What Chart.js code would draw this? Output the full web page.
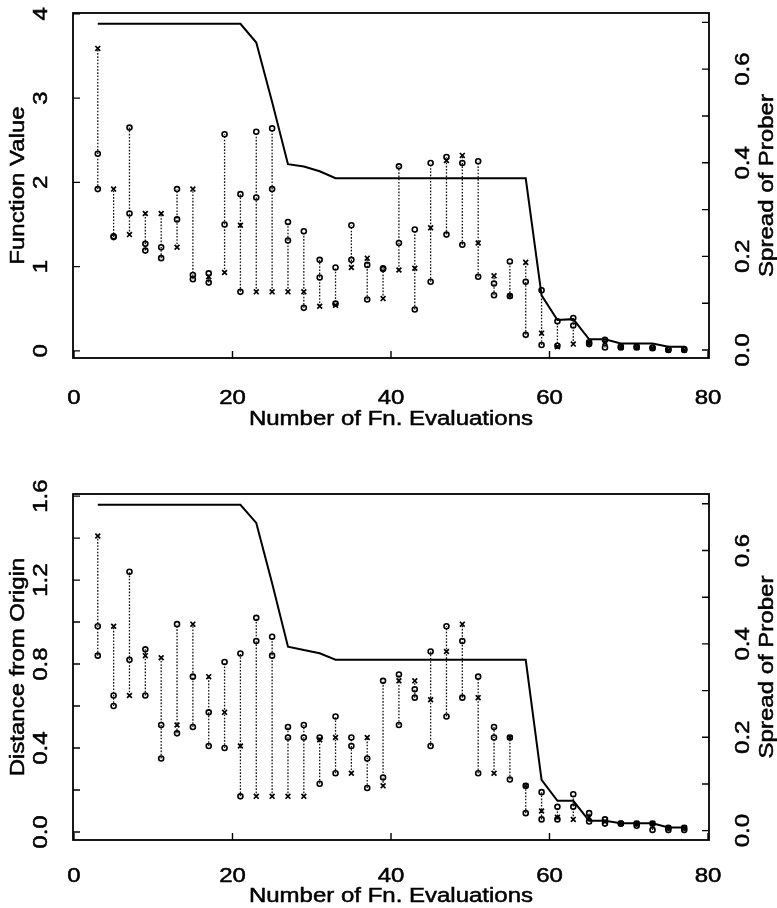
<!DOCTYPE html>
<html>
<head>
<meta charset="utf-8">
<script src="https://cdn.jsdelivr.net/npm/chart.js@4.4.1/dist/chart.umd.min.js"></script>
<style>
  html, body { margin: 0; padding: 0; background: #ffffff; }
  #wrap { position: relative; width: 777px; height: 908px; }
  canvas { position: absolute; left: 0; }
</style>
</head>
<body>
<div id="wrap">
  <canvas id="topPanel" width="777" height="454" style="top:0;width:777px;height:454px"></canvas>
  <canvas id="bottomPanel" width="777" height="454" style="top:454px;width:777px;height:454px"></canvas>
</div>
<script>
// x positions: number of function evaluations
const evals = [3, 5, 7, 9, 11, 13, 15, 17, 19, 21, 23, 25, 27, 29, 31, 33, 35, 37, 39,
  41, 43, 45, 47, 49, 51, 53, 55, 57, 59, 61, 63, 65, 67, 69, 71, 73, 75, 77];

// top panel: function value of the probe points
const fvCircleA = [2.34, 1.36, 2.65, 1.27, 1.23, 1.92, 0.90, 0.92, 2.57, 1.86, 2.60, 2.64, 1.53,
  1.42, 1.08, 0.99, 1.49, 1.02, 0.98, 2.19, 1.44, 2.23, 2.30, 2.23, 2.25, 0.80, 1.06, 0.82,
  0.72, 0.35, 0.39, 0.10, 0.13, 0.05, 0.05, 0.04, 0.02, 0.02];
const fvCircleB = [1.92, 1.35, 1.63, 1.19, 1.10, 1.56, 0.85, 0.81, 1.50, 0.70, 1.82, 1.92, 1.31,
  0.51, 0.87, 0.56, 1.08, 0.61, 0.97, 1.28, 0.49, 0.82, 1.38, 1.26, 0.88, 0.66, 0.65, 0.19,
  0.07, 0.06, 0.30, 0.08, 0.04, 0.04, 0.04, 0.03, 0.01, 0.01];
const fvCross = [3.59, 1.92, 1.38, 1.63, 1.63, 1.23, 1.92, 0.88, 0.93, 1.49, 0.70, 0.70, 0.70,
  0.70, 0.53, 0.54, 0.99, 1.10, 0.62, 0.96, 0.98, 1.46, 2.26, 2.32, 1.28, 0.89, 0.65, 1.05,
  0.21, 0.05, 0.08, 0.09, 0.10, 0.04, 0.04, 0.03, 0.01, 0.01];
const fvSpread = [0.697, 0.697, 0.697, 0.697, 0.697, 0.697, 0.697, 0.697, 0.697, 0.697, 0.657,
  0.53, 0.397, 0.392, 0.382, 0.367, 0.367, 0.367, 0.367, 0.367, 0.367, 0.367, 0.367, 0.367,
  0.367, 0.367, 0.367, 0.367, 0.117, 0.064, 0.066, 0.023, 0.023, 0.014, 0.014, 0.014, 0.007, 0.007];

// bottom panel: distance from origin of the probe points
const distCircleA = [0.98, 0.65, 1.24, 0.87, 0.51, 0.99, 0.74, 0.57, 0.81, 0.85, 1.02, 0.93, 0.50,
  0.51, 0.45, 0.55, 0.45, 0.35, 0.72, 0.75, 0.68, 0.86, 0.98, 0.91, 0.74, 0.50, 0.45, 0.22,
  0.19, 0.12, 0.18, 0.09, 0.06, 0.04, 0.04, 0.04, 0.02, 0.02];
const distCircleB = [0.84, 0.60, 0.82, 0.65, 0.35, 0.47, 0.50, 0.41, 0.40, 0.17, 0.91, 0.84, 0.45,
  0.45, 0.23, 0.28, 0.41, 0.21, 0.26, 0.51, 0.64, 0.41, 0.55, 0.64, 0.28, 0.45, 0.25, 0.09,
  0.06, 0.06, 0.12, 0.05, 0.04, 0.04, 0.03, 0.01, 0.01, 0.01];
const distCross = [1.41, 0.98, 0.65, 0.84, 0.83, 0.51, 0.99, 0.74, 0.57, 0.41, 0.17, 0.17, 0.17,
  0.17, 0.44, 0.45, 0.28, 0.45, 0.22, 0.72, 0.72, 0.63, 0.86, 0.99, 0.64, 0.28, 0.45, 0.22,
  0.10, 0.07, 0.06, 0.07, 0.05, 0.04, 0.04, 0.04, 0.02, 0.02];
const distSpread = [0.698, 0.698, 0.698, 0.698, 0.698, 0.698, 0.698, 0.698, 0.698, 0.698, 0.659,
  0.53, 0.394, 0.387, 0.38, 0.366, 0.366, 0.366, 0.366, 0.366, 0.366, 0.366, 0.366, 0.366,
  0.366, 0.366, 0.366, 0.366, 0.109, 0.064, 0.064, 0.021, 0.021, 0.016, 0.016, 0.016, 0.007, 0.007];

// axis ticks and labels
const xTicks = [0, 20, 40, 60, 80];
const fvTicks = [0, 1, 2, 3, 4];
const fvTickLabels = ["0", "1", "2", "3", "4"];
const distTicks = [0, 0.2, 0.4, 0.6, 0.8, 1.0, 1.2, 1.4, 1.6];
const distTickLabels = ["0.0", "", "0.4", "", "0.8", "", "1.2", "", "1.6"];
const spreadTicks = [0, 0.1, 0.2, 0.3, 0.4, 0.5, 0.6, 0.7];
const spreadTickLabels = ["0.0", "", "0.2", "", "0.4", "", "0.6", ""];

const xTitle = "Number of Fn. Evaluations";
const spreadTitle = "Spread of Prober";

const FONT = '20px "Liberation Sans", Arial, Helvetica, sans-serif';
const STRETCH = 1.2;

function drawLabel(ctx, text, x, y, vertical) {
  ctx.save();
  ctx.translate(x, y);
  if (vertical) {
    ctx.rotate(-Math.PI / 2);
  }
  ctx.scale(STRETCH, 1);
  ctx.fillText(text, 0, 0);
  ctx.strokeText(text, 0, 0);
  ctx.restore();
}

// box, inward ticks and rotated labels in the old S-plus look
const framePlugin = {
  id: "frame",
  afterDraw(chart, _args, opts) {
    const { ctx, chartArea: area, scales } = chart;
    const midY = (area.top + area.bottom) / 2;
    ctx.save();
    ctx.strokeStyle = "#000";
    ctx.fillStyle = "#000";
    ctx.lineWidth = 1.8;
    ctx.strokeRect(area.left, area.top, area.right - area.left, area.bottom - area.top);

    ctx.lineWidth = 1.4;
    ctx.beginPath();
    xTicks.forEach((v) => {
      const px = scales.x.getPixelForValue(v);
      ctx.moveTo(px, area.bottom);
      ctx.lineTo(px, area.bottom - 7);
    });
    opts.leftTicks.forEach((v) => {
      const py = scales.y.getPixelForValue(v);
      ctx.moveTo(area.left, py);
      ctx.lineTo(area.left + 7, py);
    });
    spreadTicks.forEach((v) => {
      const py = scales.y2.getPixelForValue(v);
      ctx.moveTo(area.right, py);
      ctx.lineTo(area.right - 7, py);
    });
    ctx.stroke();

    ctx.font = FONT;
    ctx.lineWidth = 0.5;
    ctx.textAlign = "center";
    ctx.textBaseline = "alphabetic";
    xTicks.forEach((v) => {
      drawLabel(ctx, String(v), scales.x.getPixelForValue(v), area.bottom + opts.tickGap, false);
    });
    drawLabel(ctx, xTitle, (area.left + area.right) / 2, area.bottom + opts.titleGap, false);
    opts.leftTicks.forEach((v, i) => {
      if (opts.leftLabels[i]) {
        drawLabel(ctx, opts.leftLabels[i], 47, scales.y.getPixelForValue(v), true);
      }
    });
    drawLabel(ctx, opts.leftTitle, 24, midY, true);
    spreadTicks.forEach((v, i) => {
      if (spreadTickLabels[i]) {
        drawLabel(ctx, spreadTickLabels[i], 749, scales.y2.getPixelForValue(v), true);
      }
    });
    drawLabel(ctx, spreadTitle, 773, midY, true);
    ctx.restore();
  },
};

Chart.register(framePlugin);

function toPoints(values) {
  return values.map((v, i) => ({ x: evals[i], y: v }));
}

function buildPanel(canvasId, cfg) {
  // one dotted segment per evaluation, spanning its three probe values
  const segments = [];
  evals.forEach((e, i) => {
    const vals = [cfg.circleA[i], cfg.circleB[i], cfg.cross[i]];
    segments.push({ x: e, y: Math.min(...vals) });
    segments.push({ x: e, y: Math.max(...vals) });
    segments.push({ x: e + 1, y: null });
  });

  const circleStyle = {
    showLine: false,
    pointStyle: "circle",
    pointRadius: 2.5,
    pointBorderWidth: 1.6,
    pointBorderColor: "#000",
    pointBackgroundColor: "rgba(0,0,0,0)",
    yAxisID: "y",
    order: 1,
  };

  const hidden = (size) => ({
    ticks: { display: false },
    grid: { display: false },
    border: { display: false },
    afterFit: (scale) => {
      if (scale.isHorizontal()) {
        scale.height = size;
      } else {
        scale.width = size;
      }
    },
  });

  return new Chart(document.getElementById(canvasId), {
    type: "line",
    data: {
      datasets: [
        {
          data: toPoints(cfg.cross),
          showLine: false,
          pointStyle: "crossRot",
          pointRadius: 3.4,
          pointBorderWidth: 1.7,
          pointBorderColor: "#000",
          yAxisID: "y",
          order: 1,
        },
        { ...circleStyle, data: toPoints(cfg.circleA) },
        { ...circleStyle, data: toPoints(cfg.circleB) },
        {
          data: toPoints(cfg.spread),
          borderColor: "#000",
          borderWidth: 2,
          pointRadius: 0,
          tension: 0,
          yAxisID: "y2",
          order: 2,
        },
        {
          data: segments,
          borderColor: "#111",
          borderWidth: 1.3,
          borderDash: [1.6, 1.6],
          pointRadius: 0,
          spanGaps: false,
          yAxisID: "y",
          order: 3,
        },
      ],
    },
    options: {
      responsive: false,
      animation: false,
      events: [],
      layout: { padding: { top: cfg.padTop, left: 0, right: 0, bottom: 0 } },
      plugins: {
        legend: { display: false },
        tooltip: { enabled: false },
        frame: {
          leftTicks: cfg.leftTicks,
          leftLabels: cfg.leftLabels,
          leftTitle: cfg.leftTitle,
          tickGap: cfg.tickGap,
          titleGap: cfg.titleGap,
        },
      },
      scales: {
        x: { type: "linear", position: "bottom", min: -0.126, max: 80.126, ...hidden(cfg.xHeight) },
        y: { type: "linear", position: "left", min: cfg.yMin, max: cfg.yMax, ...hidden(73) },
        y2: { type: "linear", position: "right", min: cfg.y2Min, max: cfg.y2Max, ...hidden(68) },
      },
    },
  });
}

buildPanel("topPanel", {
  circleA: fvCircleA,
  circleB: fvCircleB,
  cross: fvCross,
  spread: fvSpread,
  leftTicks: fvTicks,
  leftLabels: fvTickLabels,
  leftTitle: "Function Value",
  yMin: -0.085,
  yMax: 4.01,
  y2Min: -0.017,
  y2Max: 0.72,
  padTop: 13,
  xHeight: 96,
  tickGap: 46,
  titleGap: 67,
});

buildPanel("bottomPanel", {
  circleA: distCircleA,
  circleB: distCircleB,
  cross: distCross,
  spread: distSpread,
  leftTicks: distTicks,
  leftLabels: distTickLabels,
  leftTitle: "Distance from Origin",
  yMin: -0.038,
  yMax: 1.61,
  y2Min: -0.02,
  y2Max: 0.721,
  padTop: 40,
  xHeight: 68,
  tickGap: 42,
  titleGap: 62,
});
</script>
</body>
</html>
